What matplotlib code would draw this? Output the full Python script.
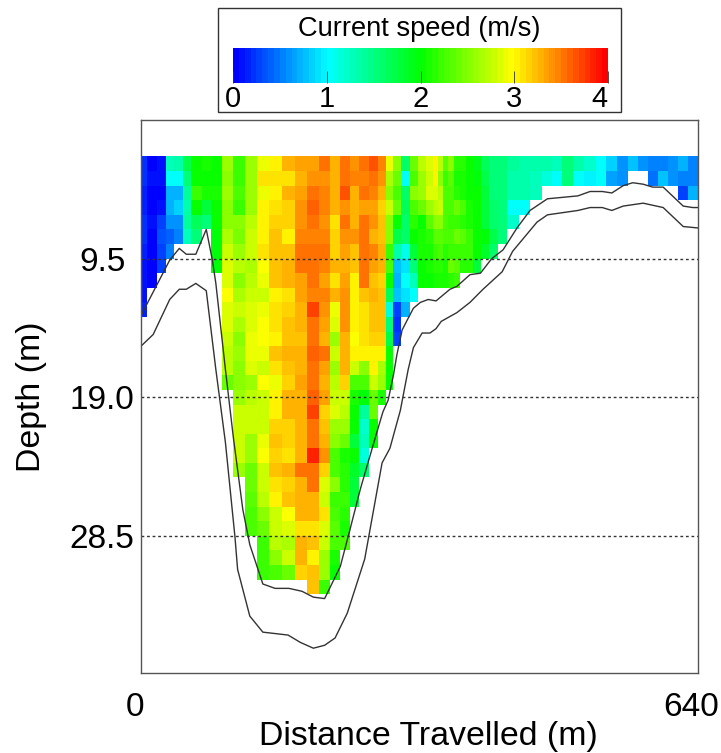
import numpy as np
import matplotlib
matplotlib.use("Agg")
import matplotlib.pyplot as plt
from matplotlib.colors import LinearSegmentedColormap
from matplotlib.patches import Rectangle

plt.rcParams['font.family'] = ['Liberation Sans', 'DejaVu Sans']

# column edges along the transect (m)
col_edges = [0, 7, 18, 29, 38, 48, 57, 70, 80, 93, 106, 119, 133, 147, 162, 177, 191, 205, 217, 229,
             240, 250, 262, 272, 282, 290, 299, 309, 318, 327, 336, 341, 347, 353, 360, 367, 373, 381,
             391, 400, 410, 421, 434, 447, 461, 472, 484, 496, 509, 523, 534, 547, 560, 571, 583, 594,
             606, 617, 629, 640]

first_bin_depth = 2.5

# speed (m/s) for each column, top bin downwards
speed_cols = [
    [.2, .2, .15, .15, .2, .2, .15, .1, .1, .1, .15],
    [.05, .1, .05, .05, .1, 0, .05, .05, .05],
    [.1, .1, .05, .1, .25, .35, .25, .25],
    [1.3, 1.05, .7, .7, .6, .4, .5],
    [1.35, 1.05, .7, .85, .6, .5],
    [1.7, 1.55, 1.4, 1.35, 1.4, 1.25],
    [2.0, 2.0, 2.2, 2.0, 1.65, 1.5],
    [2.1, 2.05, 2.1, 1.8, 1.55],
    [2.05, 2.0, 2.1, 2.0, 2.0, 1.95, 1.95, 1.95],
    [2.6, 2.5, 2.6, 2.5, 2.5, 2.65, 2.8, 2.85, 2.85, 2.95, 2.85, 2.85, 2.75, 2.7, 2.7, 2.4],
    [2.2, 2.2, 2.3, 2.2, 2.5, 2.45, 2.6, 2.7, 2.55, 2.65, 2.75, 2.65, 2.55, 2.6, 2.55, 2.55, 2.6, 2.8,
     2.8, 2.75, 2.75, 2.6],
    [2.6, 2.6, 2.6, 2.6, 2.7, 2.8, 2.8, 2.65, 2.7, 2.8, 2.85, 2.85, 2.9, 2.9, 2.85, 2.6, 2.7, 2.75,
     2.8, 2.6, 2.6, 2.4, 2.4, 2.35, 2.3, 2.3],
    [2.9, 3.1, 2.9, 3.0, 3.0, 3.0, 3.1, 2.95, 2.9, 2.8, 2.9, 2.95, 2.95, 2.9, 2.75, 2.95, 2.8, 2.8,
     2.8, 2.9, 2.95, 2.75, 2.75, 2.7, 2.5, 2.4, 2.2, 2.2, 2.2],
    [3.05, 3.1, 3.05, 3.1, 3.15, 3.2, 3.2, 3.2, 3.2, 3.05, 3.1, 3.1, 3.0, 3.2, 3.1, 2.9, 3.0, 3.05,
     3.15, 3.2, 3.15, 3.2, 3.1, 3.05, 2.8, 2.75, 2.7, 2.5, 2.3],
    [3.25, 3.1, 3.25, 3.15, 3.15, 3.05, 3.2, 3.3, 3.25, 3.1, 3.15, 3.2, 3.2, 3.25, 3.2, 3.15, 3.25,
     3.25, 3.15, 3.15, 3.1, 3.3, 3.15, 3.2, 2.95, 2.85, 2.65, 2.75, 2.4],
    [3.35, 3.3, 3.35, 3.4, 3.4, 3.45, 3.5, 3.55, 3.35, 3.35, 3.3, 3.25, 3.2, 3.3, 3.25, 3.35, 3.3,
     3.25, 3.3, 3.3, 3.25, 3.5, 3.25, 3.3, 3.3, 3.1, 3.3, 3.3, 3.15],
    [3.35, 3.4, 3.5, 3.6, 3.5, 3.45, 3.5, 3.55, 3.55, 3.45, 3.7, 3.55, 3.5, 3.6, 3.5, 3.5, 3.6, 3.7,
     3.55, 3.5, 3.85, 3.55, 3.55, 3.3, 3.25, 3.1, 3.2, 3.0, 3.2, 3.2],
    [3.55, 3.4, 3.45, 3.45, 3.4, 3.45, 3.5, 3.45, 3.35, 3.45, 3.4, 3.35, 3.3, 3.55, 3.35, 3.3, 3.35,
     3.15, 3.2, 3.25, 3.4, 3.15, 2.85, 2.8, 3.1, 2.85, 2.75, 2.6, 2.6, 2.2],
    [3.3, 3.25, 3.3, 3.25, 3.1, 3.15, 3.15, 3.25, 3.1, 3.25, 2.9, 2.85, 2.6, 2.75, 2.6, 2.7, 2.8,
     2.85, 2.6, 2.5, 2.3, 2.3, 2.5, 2.2, 2.3, 2.35, 2.3, 2.1, 2.0],
    [3.55, 3.5, 3.65, 3.4, 3.5, 3.4, 3.35, 3.25, 3.35, 3.4, 3.4, 3.4, 3.3, 3.25, 3.3, 3.15, 2.75, 2.7,
     2.6, 2.4, 2.1, 2.15, 2.15, 2.2, 2.15, 2.1, 2.3],
    [3.4, 3.45, 3.3, 3.25, 3.3, 3.4, 3.2, 3.2, 3.0, 3.0, 3.05, 3.0, 2.95, 3.0, 2.8, 2.3, 2.1, 2.05,
     2.0, 1.75, 2.0, 1.85, 1.8, 1.8],
    [3.55, 3.45, 3.5, 3.35, 3.55, 3.55, 3.55, 3.55, 3.55, 3.2, 3.1, 3.1, 3.1, 3.0, 2.5, 2.3, 1.95,
     1.4, 1.2, 1.25, 1.15, 1.6],
    [3.65, 3.5, 3.45, 3.35, 3.4, 3.3, 3.45, 3.35, 3.2, 3.3, 3.2, 3.2, 3.15, 3.0, 3.0, 2.75, 2.4, 2.4,
     2.05, 2.0],
    [3.45, 3.4, 3.3, 3.15, 3.2, 3.2, 3.3, 3.25, 3.15, 3.2, 3.2, 3.2, 3.15, 3.0, 2.65, 2.6, 2.1],
    [2.9, 2.65, 2.55, 2.8, 2.55, 2.55, 2.2, 2.3, 2.05, 1.65, 1.15, 1.55, 1.7, 2.0, 2.0, 2.05],
    [2.55, 2.4, 2.3, 2.4, 2.05, 1.7, 1.35, .75, .7, .75, .3, .2, .25],
    [1.6, 1.05, 1.6, 1.65, 1.6, 1.6, 1.1, .9, 1.0, .9, .7],
    [2.4, 2.3, 2.5, 2.3, 2.15, 2.0, 1.75, 1.5, 1.3, 1.0],
    [2.7, 2.6, 2.6, 2.4, 2.0, 2.1, 2.1, 2.05, 2.0],
    [2.85, 2.8, 2.85, 2.6, 2.35, 2.15, 2.1, 2.1, 2.0],
    [3.0, 3.0, 2.85, 2.7, 2.5, 2.35, 2.2, 2.15, 2.1],
    [2.7, 2.55, 2.7, 2.75, 2.5, 2.35, 2.3, 2.15, 2.1],
    [2.35, 2.2, 2.25, 2.3, 2.3, 2.3, 2.15, 2.1, 2.1],
    [2.5, 2.35, 2.3, 2.25, 2.2, 2.25, 2.2, 2.4, 2.15],
    [2.15, 2.1, 2.15, 2.4, 2.2, 2.4, 2.2, 2.35, 2.2],
    [2.15, 2.1, 2.1, 2.3, 2.15, 2.35, 2.2, 2.15],
    [2.0, 2.05, 2.05, 2.1, 2.1, 2.2, 2.2, 2.15],
    [1.9, 1.95, 2.0, 2.0, 2.0, 2.0, 2.05, 1.8],
    [1.65, 1.7, 1.8, 1.8, 1.8, 1.95, 1.85],
    [1.5, 1.5, 1.55, 1.6, 1.6, 1.7, 1.6],
    [1.5, 1.5, 1.5, 1.55, 1.5, 1.5],
    [1.4, 1.35, 1.35, 1.05, 1.2],
    [1.35, 1.35, 1.35, 1.05],
    [1.35, 1.25, 1.3],
    [1.35, 1.15],
    [1.3, 1.05],
    [1.5, 1.5],
    [1.35, 1.05],
    [1.2, .95],
    [1.05, 1.0],
    [.85, .65],
    [.6, .6],
    [.8],
    [.6],
    [.55, .45],
    [.5, .8],
    [.6, .6],
    [.7, .55, .3],
    [.55, .55, .7],
]

# the two outlines under the data
bed_x = [0, 33, 44, 52, 63, 75, 82, 86, 97, 106, 117, 125, 140, 154, 170, 185, 198, 211, 229, 240, 252,
         271, 278, 284, 290, 294, 300, 306, 313, 321, 330, 339, 355, 363, 378, 390, 403, 416, 432, 447,
         467, 502, 516, 530, 541, 554, 565, 577, 588, 600, 623, 634, 640]
bed_depth = [13.4, 9.6, 8.8, 9.2, 9.2, 7.5, 9.6, 11.2, 17.1, 21.7, 26.7, 29.1, 31.8, 32.1, 32.1, 32.3,
             32.7, 32.8, 30.6, 28.1, 25.3, 21.4, 20.0, 19.2, 17.5, 16.1, 14.4, 13.7, 12.9, 12.5, 12.3,
             12.4, 11.6, 11.4, 10.6, 10.5, 9.5, 8.9, 7.4, 6.2, 5.4, 5.2, 4.9, 4.9, 5.0, 4.5, 4.3, 4.4,
             4.6, 4.6, 5.9, 6.0, 6.0]
lower_x = [0, 14, 33, 44, 52, 63, 75, 86, 97, 108, 111, 125, 140, 169, 183, 198, 211, 223, 237, 257, 277,
           286, 298, 307, 313, 323, 332, 339, 345, 363, 378, 393, 415, 427, 455, 467, 502, 516, 530, 541,
           554, 577, 600, 623, 640]
lower_depth = [15.5, 14.7, 12.3, 11.6, 11.6, 11.2, 11.7, 17.1, 22.1, 28.6, 30.8, 34.0, 35.1, 35.3, 35.8,
               36.2, 36.0, 35.5, 33.8, 30.1, 23.5, 22.5, 19.9, 17.1, 15.6, 14.6, 14.6, 14.3, 13.8, 13.2,
               12.5, 11.6, 10.4, 9.0, 7.0, 6.5, 6.2, 6.0, 6.0, 6.2, 5.9, 5.7, 6.0, 7.3, 7.4]

depth_ticks = [9.5, 19.0, 28.5]
speed_ticks = [0, 1, 2, 3, 4]

# build the grid from the columns, blank below the last bin
nrows = max(len(c) for c in speed_cols)
grid = np.full((nrows, len(speed_cols)), np.nan)
for i, c in enumerate(speed_cols):
    grid[:len(c), i] = c
row_edges = first_bin_depth + np.arange(nrows + 1)

W, H = 721, 753
fig = plt.figure(figsize=(W / 100, H / 100), dpi=100)
ax = fig.add_axes([141 / W, 1 - 673 / H, 557 / W, 553 / H])

cmap = LinearSegmentedColormap.from_list("speed", ["#0000ff", "#00ffff", "#00ff00", "#ffff00", "#ff0000"], N=64)
mesh = ax.pcolormesh(col_edges, row_edges, np.ma.masked_invalid(grid), cmap=cmap, vmin=0, vmax=4,
                     linewidth=0, rasterized=True)

ax.plot(bed_x, bed_depth, color="#333333", lw=1)
ax.plot(lower_x, lower_depth, color="#333333", lw=1)
for d in depth_ticks:
    ax.axhline(d, color="#333333", lw=1, ls=(0, (2, 2)))

ax.set_xlim(0, 640)
ax.set_ylim(37.9, 0)
ax.set_xticks([])
ax.set_yticks(depth_ticks)
ax.set_yticklabels(["%.1f" % d for d in depth_ticks], fontsize=24)
ax.tick_params(axis="y", length=0, pad=28)
for lab in ax.get_yticklabels():
    lab.set_ha("center")
    lab.set_va("center_baseline")
for s in ax.spines.values():
    s.set_color("#555555")
    s.set_linewidth(1)

fig.text(135 / W, 1 - 707.5 / H, "0", fontsize=24, ha="center", va="center")
fig.text(691 / W, 1 - 707.5 / H, "640", fontsize=24, ha="center", va="center")
fig.text(428 / W, 1 - 737 / H, "Distance Travelled (m)", fontsize=24.4, ha="center", va="center")
fig.text(32 / W, 1 - 397 / H, "Depth (m)", fontsize=24.4, ha="center", va="center", rotation=90)

# colour key
fig.add_artist(Rectangle((218 / W, 1 - 112 / H), 403 / W, 104 / H, transform=fig.transFigure,
                         fill=False, edgecolor="#333333", lw=1))
cax = fig.add_axes([233 / W, 1 - 83 / H, 375 / W, 35 / H])
cb = fig.colorbar(mesh, cax=cax, orientation="horizontal")
cb.set_ticks(speed_ticks)
cb.outline.set_visible(False)
cax.tick_params(axis="x", direction="in", length=9, width=0.6, color="#333333", labelsize=21, pad=1.5)
cax.get_xticklabels()[-1].set_ha("right")
fig.text(419 / W, 1 - 29 / H, "Current speed (m/s)", fontsize=19.6, ha="center", va="center")

fig.savefig("out.png", dpi=100)
